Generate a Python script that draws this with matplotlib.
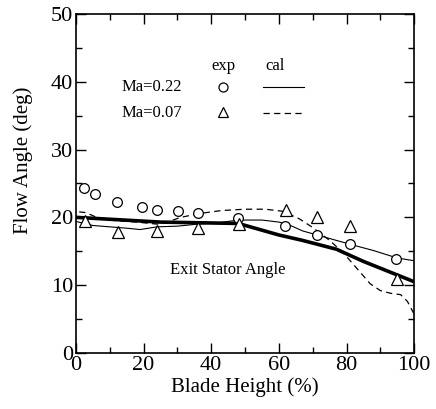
import matplotlib
matplotlib.use("Agg")
import matplotlib.pyplot as plt
from matplotlib.ticker import MultipleLocator

plt.rcParams["font.family"] = ["Liberation Serif", "DejaVu Serif"]

# experimental points
exp22_x = [2.4, 5.6, 12.3, 19.5, 24.1, 30.3, 36.1, 48.0, 61.8, 71.2, 80.9, 94.7]
exp22_y = [24.3, 23.4, 22.3, 21.5, 21.1, 21.0, 20.6, 19.9, 18.7, 17.4, 16.0, 13.8]
exp07_x = [2.7, 12.4, 24.1, 36.2, 48.2, 62.0, 71.4, 81.1, 95.0]
exp07_y = [19.5, 17.9, 18.0, 18.4, 19.0, 21.1, 20.0, 18.7, 10.9]

# calculations
cal22_x = [0, 5, 10, 15, 19, 24, 30, 36, 42, 48, 55, 60, 63, 67, 72, 77, 82, 88, 95, 100]
cal22_y = [19.4, 18.8, 18.6, 18.4, 18.2, 18.6, 18.7, 19.0, 19.2, 19.6, 19.6, 19.3, 18.9,
           18.0, 17.3, 16.6, 15.9, 15.1, 14.0, 13.6]
cal07_x = [1, 3, 7, 12, 18, 24, 27, 31, 37, 43, 50, 56, 61, 66, 70, 75, 79, 83, 87, 90,
           93, 96, 98, 100]
cal07_y = [20.8, 20.7, 19.8, 19.5, 19.3, 19.0, 19.3, 20.0, 20.6, 21.0, 21.2, 21.2, 20.9,
           19.8, 18.5, 16.6, 14.8, 12.5, 10.2, 9.2, 8.8, 8.6, 7.6, 5.7]

# exit stator angle
stator_x = [0, 25, 48, 60, 67, 77, 85, 100]
stator_y = [20.0, 19.3, 19.1, 17.4, 16.6, 15.3, 13.5, 10.5]

fig = plt.figure(figsize=(4.36, 4.09), dpi=100)
ax = fig.add_axes([0.174, 0.137, 0.776, 0.829])

ax.plot(stator_x, stator_y, color="black", lw=2.6)
ax.plot(cal22_x, cal22_y, color="black", lw=0.8)
ax.plot(cal07_x, cal07_y, color="black", lw=0.9, dashes=(5, 3.5))
ax.plot(exp22_x, exp22_y, "o", mfc="white", mec="black", ms=7, mew=0.9, ls="none")
ax.plot(exp07_x, exp07_y, "^", mfc="white", mec="black", ms=8, mew=0.9, ls="none")

ax.text(45, 12.2, "Exit Stator Angle", fontsize=12, ha="center", va="center")

# legend built by hand (axes fraction)
ax.text(0.435, 0.845, "exp", transform=ax.transAxes, fontsize=12, ha="center", va="center")
ax.text(0.59, 0.845, "cal", transform=ax.transAxes, fontsize=12, ha="center", va="center")
ax.text(0.136, 0.785, "Ma=0.22", transform=ax.transAxes, fontsize=12, ha="left", va="center")
ax.text(0.136, 0.708, "Ma=0.07", transform=ax.transAxes, fontsize=12, ha="left", va="center")
ax.plot([0.436], [0.785], "o", transform=ax.transAxes, mfc="white", mec="black", ms=6.5, mew=0.9)
ax.plot([0.436], [0.712], "^", transform=ax.transAxes, mfc="white", mec="black", ms=7.5, mew=0.9)
ax.plot([0.552, 0.674], [0.785, 0.785], transform=ax.transAxes, color="black", lw=0.8)
ax.plot([0.552, 0.674], [0.708, 0.708], transform=ax.transAxes, color="black", lw=0.9,
        dashes=(5, 3.5))

ax.set_xlim(0, 100)
ax.set_ylim(0, 50)
ax.xaxis.set_major_locator(MultipleLocator(20))
ax.xaxis.set_minor_locator(MultipleLocator(10))
ax.yaxis.set_major_locator(MultipleLocator(10))
ax.yaxis.set_minor_locator(MultipleLocator(5))
ax.tick_params(which="both", direction="in", top=True, right=True, labelsize=16, width=1)
ax.tick_params(which="major", length=7, pad=2)
ax.tick_params(which="minor", length=4)
for s in ax.spines.values():
    s.set_linewidth(1.2)

ax.set_xlabel("Blade Height (%)", fontsize=15, labelpad=2)
ax.set_ylabel("Flow Angle (deg)", fontsize=15)
ax.yaxis.set_label_coords(-0.127, 0.569)

fig.savefig("out.png", dpi=100)
